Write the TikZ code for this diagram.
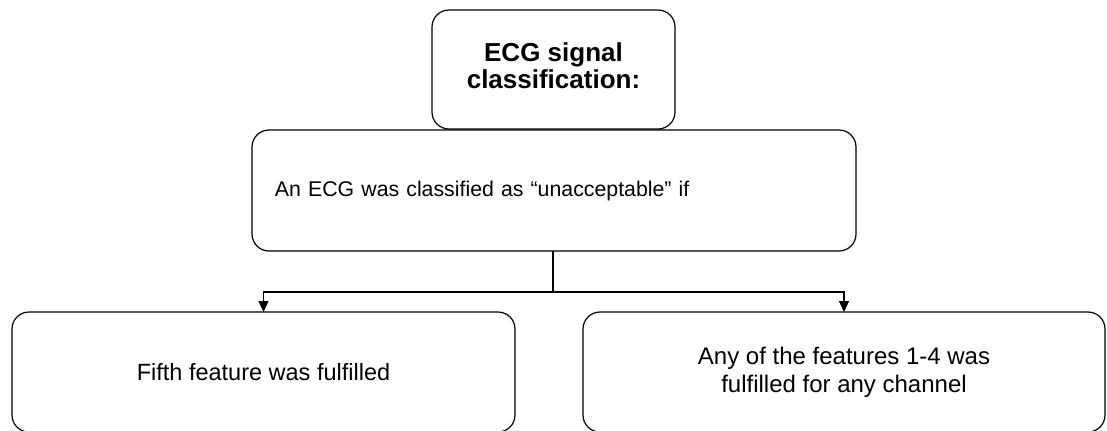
\documentclass[tikz,border=0pt]{standalone}
\usepackage{fontspec}
\setmainfont{Liberation Sans}
\usetikzlibrary{arrows.meta}
\begin{document}
\begin{tikzpicture}[x=1bp,y=-1bp,
  box/.style={draw=black, line width=1.2bp, rounded corners=17bp, fill=white, inner sep=0pt, outer sep=0pt},
  conn/.style={draw=black, line width=1.2bp},
  arr/.style={conn, -{Triangle[length=11bp,width=10bp]}}]
\useasboundingbox (0,0) rectangle (1107,430);
\node[box, minimum width=604bp, minimum height=121bp, text width=558bp, align=left, font=\fontsize{21.3bp}{25bp}\selectfont] (mid) at (554,190.5) {An ECG was classified as “unacceptable” if};
\node[box, minimum width=243bp, minimum height=119bp, font=\bfseries\fontsize{26bp}{27bp}\selectfont] (top) at (553.5,69.5) {\raisebox{-4bp}{\begin{tabular}{@{}c@{}}ECG signal\\classification:\end{tabular}}};
\node[box, minimum width=503bp, minimum height=120bp, align=center, font=\fontsize{23.5bp}{28bp}\selectfont] (left) at (263.5,372) {Fifth feature was fulfilled};
\node[box, minimum width=522bp, minimum height=120bp, align=center, font=\fontsize{24bp}{28bp}\selectfont] (right) at (844,372) {Any of the features 1-4 was\\fulfilled for any channel};
\coordinate (j) at (553,292);
\draw[conn] (mid.south -| j) -- (j);
\draw[arr] (j) -| (left.north);
\draw[arr] (j) -| (right.north);
\end{tikzpicture}
\end{document}
